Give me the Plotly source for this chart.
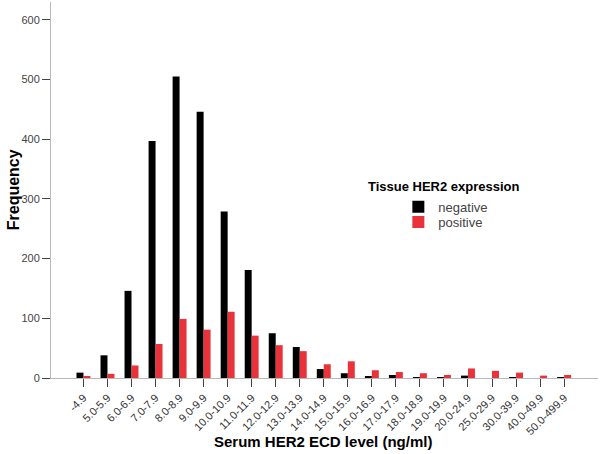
import plotly.graph_objects as go

categories = ["-4.9", "5.0-5.9", "6.0-6.9", "7.0-7.9", "8.0-8.9", "9.0-9.9",
              "10.0-10.9", "11.0-11.9", "12.0-12.9", "13.0-13.9", "14.0-14.9",
              "15.0-15.9", "16.0-16.9", "17.0-17.9", "18.0-18.9", "19.0-19.9",
              "20.0-24.9", "25.0-29.9", "30.0-39.9", "40.0-49.9", "50.0-499.9"]
negative = [9, 38, 146, 397, 505, 446, 279, 181, 75, 52, 15, 8, 3, 5, 1, 1, 4, 0, 1, 0, 1]
positive = [3, 7, 21, 57, 99, 81, 111, 71, 55, 45, 23, 28, 13, 10, 8, 5, 16, 12, 9, 4, 5]
y_ticks = [0, 100, 200, 300, 400, 500, 600]

FONT = "Arial, Liberation Sans, sans-serif"

fig = go.Figure()
fig.add_trace(go.Bar(x=categories, y=negative, name="negative", legend="legend",
                     marker=dict(color="#000000", line=dict(width=0))))
fig.add_trace(go.Bar(x=categories, y=positive, name="positive", legend="legend2",
                     marker=dict(color="#e8333b", line=dict(width=0))))

legend_common = dict(xanchor="left", yanchor="middle",
                     font=dict(size=13, color="#444444"),
                     itemwidth=30, bgcolor="rgba(0,0,0,0)")

fig.update_layout(
    width=600, height=454,
    margin=dict(l=51, r=2, t=2, b=76, autoexpand=False),
    paper_bgcolor="white", plot_bgcolor="white",
    barmode="group", bargap=0.42, bargroupgap=0,
    font=dict(family=FONT, color="#333333"),
    showlegend=True,
    legend=dict(x=0.635, y=0.455, **legend_common),
    legend2=dict(x=0.635, y=0.415, **legend_common),
    xaxis=dict(type="category", range=[-1.35, 21.41], automargin=False,
               showline=True, linecolor="#b8b8b8", linewidth=1,
               ticks="outside", ticklen=8, tickcolor="#444444",
               tickangle=-45, tickfont=dict(size=11, color="#333333"),
               showgrid=False, zeroline=False),
    yaxis=dict(range=[0, 630], tickvals=y_ticks, automargin=False,
               showline=True, linecolor="#b8b8b8", linewidth=1,
               ticks="outside", ticklen=8, tickcolor="#444444",
               tickfont=dict(size=11, color="#444444"),
               showgrid=False, zeroline=False),
    annotations=[
        dict(text="<b>Frequency</b>", xref="paper", yref="paper",
             x=-0.069, y=0.5, textangle=-90, showarrow=False,
             xanchor="center", yanchor="middle",
             font=dict(size=16, color="#000000", family=FONT)),
        dict(text="<b>Serum HER2 ECD level (ng/ml)</b>", xref="paper", yref="paper",
             x=0.497, y=-0.168, showarrow=False, xanchor="center", yanchor="middle",
             font=dict(size=15, color="#000000", family=FONT)),
        dict(text="<b>Tissue HER2 expression</b>", xref="paper", yref="paper",
             x=0.576, y=0.51, showarrow=False, xanchor="left", yanchor="middle",
             font=dict(size=13, color="#000000", family=FONT)),
    ],
)

fig.write_html("out.html", config={"displayModeBar": False},
               post_script="document.body.style.margin='0px';")
